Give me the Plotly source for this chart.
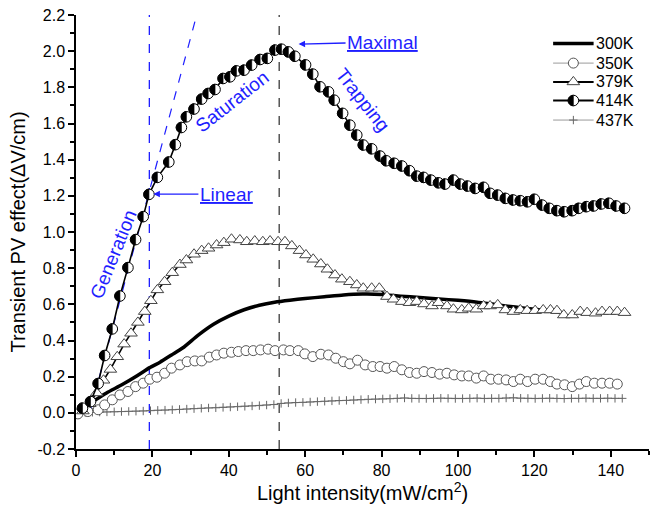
import plotly.graph_objects as go

# ---------------- data ----------------
x300 = [4.6, 8.0, 12.0, 16.0, 19.3, 22.0, 25.0, 28.0, 32.0, 36.0, 40.0, 44.0, 48.0, 52.0, 56.0,
        60.0, 65.0, 70.0, 75.0, 80.0, 85.0, 90.0, 95.0, 100.0, 105.0, 110.0, 115.0, 120.0, 125.0, 128.0]
y300 = [0.065, 0.11, 0.155, 0.205, 0.25, 0.28, 0.32, 0.36, 0.43, 0.49, 0.535, 0.57, 0.595, 0.612, 0.623,
        0.632, 0.642, 0.652, 0.657, 0.655, 0.645, 0.638, 0.63, 0.622, 0.612, 0.598, 0.585, 0.573, 0.56, 0.551]

x350 = [0.5, 3.1, 5.8, 7.5, 9.5, 11.5, 13.6, 15.6, 17.6, 19.3, 21.2, 23.2, 25.0, 27.2, 29.1,
        31.1, 32.9, 34.9, 36.8, 38.7, 40.7, 42.5, 44.5, 46.4, 48.3, 50.3, 52.1, 54.3, 56.0, 58.2,
        59.9, 62.0, 64.1, 66.1, 68.0, 70.0, 71.7, 73.7, 75.7, 77.7, 79.6, 81.4, 83.3, 85.3, 87.3,
        89.2, 91.1, 93.2, 95.2, 97.1, 99.0, 101.0, 102.8, 104.8, 106.7, 108.6, 110.6, 112.6, 114.5, 116.3,
        118.2, 120.2, 122.3, 124.2, 125.9, 127.9, 129.9, 131.8, 133.6, 135.7, 137.7, 139.7, 141.7]
y350 = [-0.006, 0.007, 0.017, 0.044, 0.072, 0.099, 0.118, 0.145, 0.164, 0.186, 0.197, 0.219, 0.247, 0.265, 0.283,
        0.287, 0.287, 0.308, 0.32, 0.33, 0.335, 0.339, 0.344, 0.344, 0.348, 0.352, 0.344, 0.348, 0.344, 0.344,
        0.326, 0.311, 0.324, 0.32, 0.302, 0.283, 0.271, 0.291, 0.265, 0.256, 0.256, 0.247, 0.256, 0.238, 0.223,
        0.219, 0.228, 0.223, 0.214, 0.219, 0.21, 0.204, 0.204, 0.192, 0.204, 0.186, 0.186, 0.182, 0.173, 0.186,
        0.173, 0.186, 0.186, 0.173, 0.159, 0.155, 0.145, 0.159, 0.173, 0.164, 0.164, 0.164, 0.159]

x379 = [1.8, 3.6, 5.4, 7.2, 9.0, 10.8, 12.6, 14.4, 16.2, 18.0, 19.6, 21.3, 23.2, 25.2, 27.2,
        28.9, 30.9, 32.9, 34.7, 36.8, 38.7, 40.7, 42.9, 44.7, 46.8, 48.9, 50.8, 52.9, 54.7, 56.5,
        58.5, 60.2, 62.1, 64.1, 65.8, 67.8, 69.6, 71.7, 73.5, 75.2, 77.4, 79.4, 81.4, 83.1, 85.3,
        87.3, 89.2, 91.1, 93.2, 94.9, 97.1, 98.8, 101.0, 102.8, 104.8, 106.7, 108.4, 110.4, 112.4, 114.5,
        116.3, 118.1, 120.2, 122.3, 124.2, 125.9, 127.7, 129.9, 132.0, 133.8, 136.0, 137.7, 139.7, 141.7, 143.6]
y379 = [0.01, 0.05, 0.11, 0.18, 0.24, 0.31, 0.38, 0.44, 0.50, 0.56, 0.62, 0.68, 0.725, 0.775, 0.82,
        0.845, 0.877, 0.897, 0.91, 0.928, 0.941, 0.96, 0.956, 0.946, 0.95, 0.946, 0.95, 0.946, 0.946, 0.923,
        0.897, 0.873, 0.849, 0.823, 0.794, 0.762, 0.739, 0.725, 0.707, 0.689, 0.689, 0.689, 0.643, 0.628, 0.615,
        0.609, 0.615, 0.602, 0.591, 0.609, 0.591, 0.573, 0.569, 0.578, 0.573, 0.591, 0.591, 0.597, 0.569, 0.56,
        0.569, 0.565, 0.565, 0.569, 0.569, 0.565, 0.541, 0.541, 0.56, 0.554, 0.551, 0.56, 0.56, 0.56, 0.554]

x414 = [1.7, 3.8, 5.8, 7.5, 9.5, 11.5, 13.6, 15.6, 17.6, 19.1, 21.3, 24.3, 26.0, 27.6, 28.9,
        30.9, 32.9, 34.6, 36.4, 38.5, 40.3, 42.0, 44.0, 46.0, 48.2, 50.1, 52.1, 53.8, 55.6, 57.3,
        60.1, 62.0, 63.9, 66.1, 67.6, 69.8, 71.7, 73.5, 75.2, 77.4, 79.6, 81.2, 83.3, 85.3, 87.3,
        89.2, 91.0, 92.9, 94.9, 96.6, 98.8, 100.6, 102.5, 104.5, 106.7, 108.4, 110.4, 112.4, 114.4, 116.3,
        118.2, 120.0, 122.0, 123.9, 125.9, 127.8, 129.9, 131.6, 133.6, 135.5, 137.5, 139.5, 141.4, 143.6]
y414 = [0.026, 0.062, 0.162, 0.317, 0.464, 0.646, 0.803, 0.958, 1.085, 1.208, 1.302, 1.387, 1.483, 1.578, 1.637,
        1.680, 1.735, 1.766, 1.788, 1.849, 1.858, 1.891, 1.895, 1.923, 1.954, 1.960, 2.006, 2.011, 1.996, 1.972,
        1.924, 1.873, 1.803, 1.775, 1.729, 1.656, 1.591, 1.536, 1.481, 1.460, 1.420, 1.394, 1.380, 1.365, 1.339,
        1.309, 1.302, 1.287, 1.272, 1.265, 1.287, 1.265, 1.254, 1.241, 1.247, 1.214, 1.204, 1.186, 1.177, 1.173,
        1.167, 1.181, 1.149, 1.131, 1.118, 1.112, 1.118, 1.131, 1.140, 1.144, 1.155, 1.159, 1.144, 1.131]

x437 = [0.5, 2.4, 4.3, 6.2, 8.1, 10.0, 11.9, 13.8, 15.7, 17.6, 19.5, 21.4, 23.3, 25.2, 27.1, 29.0,
        30.9, 32.8, 34.7, 36.6, 38.5, 40.4, 42.3, 44.2, 46.1, 48.0, 49.9, 51.8, 53.7, 55.6, 57.5, 59.4,
        61.3, 63.2, 65.1, 67.0, 68.9, 70.8, 72.7, 74.6, 76.5, 78.4, 80.3, 82.2, 84.1, 86.0, 87.9, 89.8,
        91.7, 93.6, 95.5, 97.4, 99.3, 101.2, 103.1, 105.0, 106.9, 108.8, 110.7, 112.6, 114.5, 116.4, 118.3,
        120.2, 122.1, 124.0, 125.9, 127.8, 129.7, 131.6, 133.5, 135.4, 137.3, 139.2, 141.1, 143.0]
y437 = [0.000, 0.002, 0.003, 0.004, 0.005, 0.006, 0.007, 0.008, 0.009, 0.010,
        0.012, 0.014, 0.015, 0.017, 0.019, 0.021, 0.023, 0.025, 0.027, 0.028,
        0.030, 0.032, 0.034, 0.036, 0.038, 0.040, 0.043, 0.046, 0.052, 0.055,
        0.057, 0.058, 0.060, 0.062, 0.064, 0.066, 0.068, 0.069, 0.071, 0.073,
        0.075, 0.076, 0.077, 0.078, 0.080, 0.082, 0.080, 0.079, 0.079, 0.080,
        0.081, 0.080, 0.079, 0.079, 0.080, 0.081, 0.079, 0.080, 0.080, 0.082,
        0.083, 0.081, 0.080, 0.079, 0.080, 0.081, 0.080, 0.079, 0.080, 0.080,
        0.081, 0.080, 0.080, 0.081, 0.080, 0.080]

# linear-fit guide and marker lines
fit_x = [3.6, 31.6]
fit_y = [0.0, 2.2]
LINEAR_X = 19.2
MAX_X = 53.2

x_ticks = [0, 20, 40, 60, 80, 100, 120, 140]
y_ticks = [-0.2, 0.0, 0.2, 0.4, 0.6, 0.8, 1.0, 1.2, 1.4, 1.6, 1.8, 2.0, 2.2]
y_tick_labels = ["-0.2", "0.0", "0.2", "0.4", "0.6", "0.8", "1.0", "1.2", "1.4", "1.6", "1.8", "2.0", "2.2"]

legend_names = ["300K", "350K", "379K", "414K", "437K"]
LEG_Y = [2.043, 1.934, 1.830, 1.727, 1.619]
LEG_X0, LEG_X1, LEG_XM, LEG_XT = 124.9, 135.5, 130.2, 135.6

# ---------------- styling ----------------
FONT = "Liberation Sans, Arial, sans-serif"
BLUE = "#1f1fff"
R414 = 5.3                      # half-filled marker radius (px)
K414 = 0.5523 * R414
HALF_PATH = (f"M0,{-R414} C{-K414},{-R414} {-R414},{-K414} {-R414},0 "
             f"C{-R414},{K414} {-K414},{R414} 0,{R414} Z")

fig = go.Figure()

fig.add_shape(type="line", xref="x", yref="y", x0=LINEAR_X, x1=LINEAR_X, y0=-0.2, y1=2.2,
              line=dict(color=BLUE, width=1.3, dash="dash"), layer="below")
fig.add_shape(type="line", xref="x", yref="y", x0=MAX_X, x1=MAX_X, y0=-0.2, y1=2.2,
              line=dict(color="#555555", width=1.5, dash="dash"), layer="below")

fig.add_trace(go.Scatter(x=fit_x, y=fit_y, mode="lines", showlegend=False, hoverinfo="skip",
                         line=dict(color=BLUE, width=1.2, dash="dash")))

s437 = dict(mode="lines+markers", line=dict(color="#9a9a9a", width=1),
            marker=dict(symbol="cross-thin", size=6, line=dict(color="#666666", width=1)))
s350 = dict(mode="lines+markers", line=dict(color="#9a9a9a", width=1),
            marker=dict(symbol="circle", size=10, color="white", line=dict(color="#555555", width=1)))
s379 = dict(mode="lines+markers", line=dict(color="black", width=1.6),
            marker=dict(symbol="triangle-up", size=11, color="white", line=dict(color="#444444", width=1)))

fig.add_trace(go.Scatter(x=x437, y=y437, name="437K", showlegend=False, **s437))
fig.add_trace(go.Scatter(x=x350, y=y350, name="350K", showlegend=False, **s350))
fig.add_trace(go.Scatter(x=x300, y=y300, name="300K", showlegend=False,
                         mode="lines", line=dict(color="black", width=3.5, shape="spline", smoothing=0.6)))
fig.add_trace(go.Scatter(x=x379, y=y379, name="379K", showlegend=False, **s379))
fig.add_trace(go.Scatter(x=x414, y=y414, name="414K", showlegend=False, mode="lines",
                         line=dict(color="black", width=1.6)))


def half_marker(xx, yy):
    """Half-filled circle (left half black) anchored at a data point, sized in pixels."""
    common = dict(xref="x", yref="y", xsizemode="pixel", ysizemode="pixel",
                  xanchor=xx, yanchor=yy, layer="above")
    fig.add_shape(type="circle", x0=-R414, x1=R414, y0=-R414, y1=R414,
                  fillcolor="white", line=dict(color="black", width=1), **common)
    fig.add_shape(type="path", path=HALF_PATH, fillcolor="black",
                  line=dict(color="black", width=0.6), **common)


for xx, yy in zip(x414, y414):
    half_marker(xx, yy)

# manual legend (drawn inside the plot, as in the reference)
leg_markers = [None, s350["marker"], s379["marker"], "half", s437["marker"]]
widths = [3.5, 1, 2, 2, 1]
colors = ["black", "#9a9a9a", "black", "black", "#9a9a9a"]
for name, yy, mk, w, c in zip(legend_names, LEG_Y, leg_markers, widths, colors):
    fig.add_trace(go.Scatter(x=[LEG_X0, LEG_X1], y=[yy, yy], mode="lines", showlegend=False,
                             hoverinfo="skip", line=dict(color=c, width=w)))
    if mk == "half":
        half_marker(LEG_XM, yy)
    elif mk is not None:
        fig.add_trace(go.Scatter(x=[LEG_XM], y=[yy], mode="markers", showlegend=False,
                                 hoverinfo="skip", marker=mk))
    fig.add_annotation(x=LEG_XT, y=yy, text=name, showarrow=False, xanchor="left", yanchor="middle",
                       font=dict(family=FONT, size=16, color="black"))

# text annotations
fig.add_annotation(x=20.0, y=1.21, text="<u>Linear</u>", showarrow=True, ax=74, ay=0,
                   arrowhead=2, arrowsize=1, arrowwidth=1.3, arrowcolor=BLUE, standoff=1,
                   font=dict(family=FONT, size=19, color=BLUE))
fig.add_annotation(x=58.0, y=2.039, text="<u>Maximal</u>", showarrow=True, ax=85, ay=-2,
                   arrowhead=2, arrowsize=1, arrowwidth=1.3, arrowcolor=BLUE, standoff=1,
                   font=dict(family=FONT, size=19, color=BLUE))
fig.add_annotation(x=9.7, y=0.878, text="Generation", showarrow=False, textangle=-68,
                   font=dict(family=FONT, size=19, color=BLUE))
fig.add_annotation(x=40.9, y=1.72, text="Saturation", showarrow=False, textangle=-38,
                   font=dict(family=FONT, size=19, color=BLUE))
fig.add_annotation(x=75.0, y=1.734, text="Trapping", showarrow=False, textangle=52,
                   font=dict(family=FONT, size=19, color=BLUE))

fig.update_layout(
    width=656, height=513,
    margin=dict(l=76, r=7, t=15, b=64),
    paper_bgcolor="white", plot_bgcolor="white",
    font=dict(family=FONT, size=16, color="black"),
    showlegend=False,
    xaxis=dict(range=[0, 150], tickvals=x_ticks, ticks="outside", ticklen=6, tickwidth=1.5,
               tickcolor="black", showline=True, linecolor="black", linewidth=1.5,
               showgrid=False, zeroline=False, tickfont=dict(size=16), automargin=False,
               minor=dict(dtick=10, tick0=0, ticks="outside", ticklen=4, tickwidth=1.5, tickcolor="black"),
               title=dict(text="Light intensity(mW/cm<sup>2</sup>)", font=dict(size=20), standoff=6)),
    yaxis=dict(range=[-0.2, 2.2], tickvals=y_ticks, ticktext=y_tick_labels, ticks="outside",
               ticklen=6, tickwidth=1.5, tickcolor="black", showline=True, linecolor="black",
               linewidth=1.5, showgrid=False, zeroline=False, tickfont=dict(size=16), automargin=False,
               minor=dict(dtick=0.1, tick0=0, ticks="outside", ticklen=4, tickwidth=1.5, tickcolor="black"),
               title=dict(text="Transient PV effect(\u0394V/cm)", font=dict(size=20), standoff=6)),
)

# remove the browser's default 8px page margin so the figure sits at the window origin
fig.write_html("out.html", config={"displayModeBar": False},
               post_script="document.body.style.margin='0px'; document.body.style.overflow='hidden';")
